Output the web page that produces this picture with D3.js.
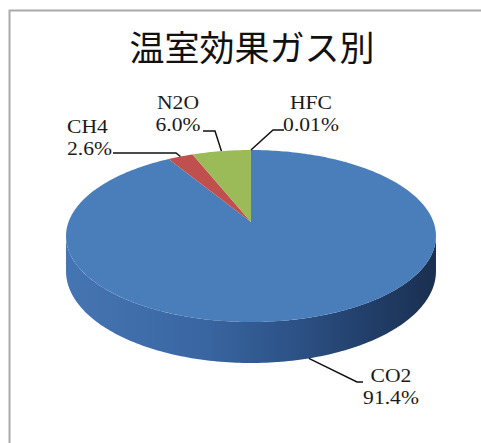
<!DOCTYPE html>
<html><head><meta charset="utf-8">
<script src="https://cdn.jsdelivr.net/npm/d3@7"></script>
<style>body{margin:0;background:#fff}</style></head>
<body>
<svg id="c" width="481" height="443"></svg>
<script>
const title = "温室効果ガス別";
const gases = ["CO2", "CH4", "N2O", "HFC"];
const shares = [91.4, 2.6, 6.0, 0.01];
const shareLabels = ["91.4%", "2.6%", "6.0%", "0.01%"];

const colors = {CO2: "#4a7ebb", CH4: "#c0504d", N2O: "#9bbb59", HFC: "#8064a2"};
// label layout: text anchor point, elbow point of leader, start point of leader
const layout = {
  CO2: {x: 391, y: 382, anchor: "middle", ex: 357, ey: 382, sx: 363, sy: 382, bottom: true},
  CH4: {x: 67,  y: 133, anchor: "start",  ex: 176, ey: 153, sx: 113, sy: 153},
  N2O: {x: 178, y: 109, anchor: "middle", ex: 215, ey: 131, sx: 203, sy: 131},
  HFC: {x: 311, y: 109, anchor: "middle", ex: 273, ey: 130, sx: 284, sy: 130}
};

const svg = d3.select("#c");
svg.append("rect").attr("width", 481).attr("height", 443).attr("fill", "#fff");
// frame
svg.append("path").attr("d", "M9.5,443 L9.5,10.5 L481,10.5")
  .attr("fill", "none").attr("stroke", "#aaa").attr("stroke-width", 2);

svg.append("text").attr("x", 252).attr("y", 61).attr("text-anchor", "middle")
  .attr("font-family", "'Noto Sans CJK JP', sans-serif").attr("font-weight", 400)
  .attr("font-size", 35).attr("fill", "#111").text(title);

// perspective projection of the pie disc
const cx = 251, cy = 222, s = 182.5, t = 83.7, k = 0.163, depth = 34.3;
function proj(a, down) {
  const X = Math.sin(a), Y = Math.cos(a), w = 1 + k * Y;
  return [cx + s * X / w, cy - t * Y / w + (down ? depth / w : 0)];
}
function arcPts(a0, a1, down) {
  const n = Math.max(2, Math.ceil(Math.abs(a1 - a0) / (Math.PI / 180)));
  const pts = [];
  for (let i = 0; i <= n; i++) pts.push(proj(a0 + (a1 - a0) * i / n, down));
  return pts;
}

const data = gases.map((g, i) => ({name: g, value: shares[i], label: shareLabels[i]}));
const pie = d3.pie().value(d => d.value).sort(null).startAngle(0).endAngle(2 * Math.PI);
const arcs = pie(data);

const defs = svg.append("defs");
const grad = defs.append("linearGradient").attr("id", "side")
  .attr("gradientUnits", "userSpaceOnUse").attr("x1", 67).attr("x2", 437).attr("y1", 0).attr("y2", 0);
[[0, "#4575b2"], [0.35, "#3a67a3"], [0.6, "#2d5388"], [0.8, "#22406b"], [1, "#1a2f50"]]
  .forEach(([o, c]) => grad.append("stop").attr("offset", o).attr("stop-color", c));

// visible side wall (front)
const aL = Math.acos(-k), aR = 2 * Math.PI - Math.acos(-k);
arcs.forEach(d => {
  const a0 = Math.max(d.startAngle, aL), a1 = Math.min(d.endAngle, aR);
  if (a1 <= a0) return;
  const top = arcPts(a0, a1, false), bot = arcPts(a0, a1, true).reverse();
  svg.append("path").attr("d", d3.line()(top.concat(bot)) + "Z")
    .attr("fill", d.data.name === "CO2" ? "url(#side)" : d3.color(colors[d.data.name]).darker(0.8));
});

// top faces
arcs.forEach(d => {
  const pts = [[cx, cy]].concat(arcPts(d.startAngle, d.endAngle, false));
  svg.append("path").attr("d", d3.line()(pts) + "Z").attr("fill", colors[d.data.name]);
});

// labels and leaders
arcs.forEach(d => {
  const L = layout[d.data.name];
  const mid = (d.startAngle + d.endAngle) / 2;
  const p = proj(mid, !!L.bottom);
  svg.append("path").attr("d", d3.line()([[L.sx, L.sy], [L.ex, L.ey], p]))
    .attr("fill", "none").attr("stroke", "#111").attr("stroke-width", 1.5);
  const g = svg.append("g").attr("transform", `translate(${L.x},${L.y}) scale(1.2,1)`);
  const txt = g.append("text").attr("text-anchor", L.anchor)
    .attr("font-family", "'Liberation Serif', 'Times New Roman', serif")
    .attr("font-size", 18).attr("fill", "#1a1a1a");
  txt.append("tspan").attr("x", 0).attr("y", 0).text(d.data.name);
  txt.append("tspan").attr("x", 0).attr("y", 22).text(d.data.label);
});
</script>
</body></html>
